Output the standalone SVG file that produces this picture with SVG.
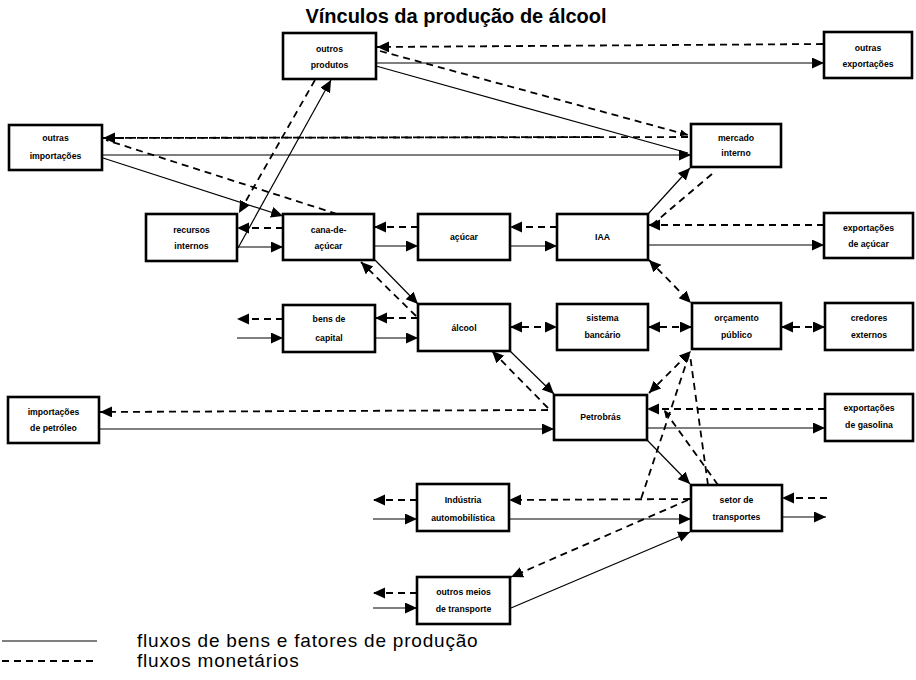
<svg xmlns="http://www.w3.org/2000/svg" width="916" height="680" viewBox="0 0 916 680">
<style>
.box{fill:#fff;stroke:#000;stroke-width:2.6}
.t{font-family:"Liberation Sans",Arial,sans-serif;font-size:8.7px;font-weight:bold;text-anchor:middle;fill:#000}
.s{stroke:#000;stroke-width:1.2;fill:none}
.d{stroke:#000;stroke-width:1.8;stroke-dasharray:7 5;fill:none}
.a{marker-end:url(#ah)}
.b{marker-start:url(#ah);marker-end:url(#ah)}
.sm{marker-end:url(#ahs)}
.title{font-family:"Liberation Sans",Arial,sans-serif;font-size:20px;font-weight:bold;text-anchor:middle}
.leg{font-family:"Liberation Sans",Arial,sans-serif;font-size:19px;letter-spacing:0.8px}
</style>
<defs>
<marker id="ah" markerUnits="userSpaceOnUse" markerWidth="13" markerHeight="12" refX="12" refY="5.5" orient="auto-start-reverse" viewBox="0 0 13 12">
<path d="M0,0 L12,5.5 L0,11 z" fill="#000"/>
</marker>
<marker id="ahs" markerUnits="userSpaceOnUse" markerWidth="9" markerHeight="8" refX="8" refY="3.5" orient="auto" viewBox="0 0 9 8">
<path d="M0,0 L8,3.5 L0,7 z" fill="#000"/>
</marker>
</defs>
<rect width="916" height="680" fill="#fff"/>
<text class="title" x="456" y="23">Vínculos da produção de álcool</text>

<g id="connectors">
<path class="d a" d="M823,44 L377,47"/>
<path class="s a" d="M376,63 L824,63"/>
<path class="d sm" d="M380,51 L688,135"/>
<path class="s" d="M376,66 L688,153"/>
<path class="d" d="M688,137 L110,138"/>
<path class="d a" d="M600,137 L103,138"/>
<path class="s a" d="M102,155 L691,155"/>
<path class="d" d="M337,214 L106,140"/>
<path class="s a" d="M103,158 L283,216"/>
<path class="d a" d="M315,80 L239,213"/>
<path class="s a" d="M238,248 L331,80"/>
<path class="d a" d="M283,228 L237,228"/>
<path class="s a" d="M237,247 L283,247"/>
<path class="d a" d="M418,227 L374,227"/>
<path class="s a" d="M374,246 L418,246"/>
<path class="d a" d="M557,227 L510,227"/>
<path class="s a" d="M510,246 L557,246"/>
<path class="s a" d="M375,260 L418,304"/>
<path class="d a" d="M416,316 L361,262"/>
<path class="d a" d="M418,318 L375,318"/>
<path class="s a" d="M375,338 L418,338"/>
<path class="d a" d="M283,319 L237,319"/>
<path class="s a" d="M237,338 L283,338"/>
<path class="d b" d="M510,327 L557,327"/>
<path class="d b" d="M648,327 L692,327"/>
<path class="d b" d="M781,327 L825,327"/>
<path class="s a" d="M648,214 L690,168"/>
<path class="d" d="M712,174 L653,224"/>
<path class="d a" d="M824,225 L648,225"/>
<path class="s a" d="M648,245 L824,245"/>
<path class="d b" d="M649,260 L691,303"/>
<path class="s a" d="M510,351 L554,394"/>
<path class="d a" d="M548,408 L492,351"/>
<path class="d a" d="M548,410 L100,412"/>
<path class="s a" d="M99,429 L554,429"/>
<path class="d b" d="M649,393 L691,351"/>
<path class="d" d="M689,355 L641,499"/>
<path class="d" d="M708,485 L690,355"/>
<path class="d sm" d="M718,485 L664,410"/>
<path class="d a" d="M825,409 L647,409"/>
<path class="s a" d="M647,428 L825,428"/>
<path class="s a" d="M647,440 L690,484"/>
<path class="d a" d="M690,499 L509,500"/>
<path class="s a" d="M509,519 L691,519"/>
<path class="d a" d="M688,500 L511,577"/>
<path class="s a" d="M511,608 L690,532"/>
<path class="d a" d="M417,500 L373,500"/>
<path class="s a" d="M373,519 L417,519"/>
<path class="d a" d="M417,593 L373,593"/>
<path class="s a" d="M373,608 L417,608"/>
<path class="d a" d="M827,498 L782,498"/>
<path class="s a" d="M782,517 L826,517"/>
</g>

<g id="outros-produtos"><rect class="box" x="283" y="33" width="93" height="46"/><text class="t" x="329.5" y="52">outros</text><text class="t" x="329.5" y="68">produtos</text></g>
<g id="outras-exportacoes"><rect class="box" x="824" y="32" width="88" height="46"/><text class="t" x="868" y="51">outras</text><text class="t" x="868" y="67">exportações</text></g>
<g id="outras-importacoes"><rect class="box" x="9" y="125" width="93" height="45"/><text class="t" x="55.5" y="141">outras</text><text class="t" x="55.5" y="159">importações</text></g>
<g id="mercado-interno"><rect class="box" x="691" y="124" width="90" height="43"/><text class="t" x="736" y="141">mercado</text><text class="t" x="736" y="156">interno</text></g>
<g id="recursos-internos"><rect class="box" x="146" y="214" width="91" height="47"/><text class="t" x="191.5" y="233">recursos</text><text class="t" x="191.5" y="249">internos</text></g>
<g id="cana-de-acucar"><rect class="box" x="283" y="214" width="91" height="46"/><text class="t" x="328.5" y="233">cana-de-</text><text class="t" x="328.5" y="249">açúcar</text></g>
<g id="acucar"><rect class="box" x="418" y="214" width="92" height="46"/><text class="t" x="464" y="240">açúcar</text></g>
<g id="iaa"><rect class="box" x="557" y="214" width="91" height="46"/><text class="t" x="602.5" y="240">IAA</text></g>
<g id="exportacoes-acucar"><rect class="box" x="824" y="213" width="89" height="45"/><text class="t" x="868.5" y="231">exportações</text><text class="t" x="868.5" y="247">de açúcar</text></g>
<g id="bens-capital"><rect class="box" x="283" y="305" width="92" height="47"/><text class="t" x="329" y="322">bens de</text><text class="t" x="329" y="341">capital</text></g>
<g id="alcool"><rect class="box" x="418" y="304" width="92" height="47"/><text class="t" x="464" y="331">álcool</text></g>
<g id="sistema-bancario"><rect class="box" x="557" y="304" width="91" height="46"/><text class="t" x="602.5" y="321">sistema</text><text class="t" x="602.5" y="338">bancário</text></g>
<g id="orcamento-publico"><rect class="box" x="692" y="303" width="89" height="46"/><text class="t" x="736.5" y="321">orçamento</text><text class="t" x="736.5" y="338">público</text></g>
<g id="credores-externos"><rect class="box" x="825" y="303" width="88" height="47"/><text class="t" x="869" y="321">credores</text><text class="t" x="869" y="338">externos</text></g>
<g id="importacoes-petroleo"><rect class="box" x="8" y="397" width="91" height="46"/><text class="t" x="53.5" y="415">importações</text><text class="t" x="53.5" y="431">de petróleo</text></g>
<g id="petrobras"><rect class="box" x="554" y="395" width="93" height="45"/><text class="t" x="600.5" y="420">Petrobrás</text></g>
<g id="exportacoes-gasolina"><rect class="box" x="825" y="394" width="88" height="47"/><text class="t" x="869" y="411">exportações</text><text class="t" x="869" y="428">de gasolina</text></g>
<g id="industria-automobilistica"><rect class="box" x="417" y="484" width="92" height="47"/><text class="t" x="463" y="503">Indústria</text><text class="t" x="463" y="521">automobilística</text></g>
<g id="setor-transportes"><rect class="box" x="691" y="485" width="91" height="46"/><text class="t" x="736.5" y="503">setor de</text><text class="t" x="736.5" y="520">transportes</text></g>
<g id="outros-meios"><rect class="box" x="417" y="577" width="93" height="47"/><text class="t" x="463.5" y="595">outros meios</text><text class="t" x="463.5" y="612">de transporte</text></g>

<g id="legend">
<line class="s" x1="2" y1="641" x2="97" y2="641"/>
<line class="d" x1="2" y1="661" x2="97" y2="661"/>
<text class="leg" x="137" y="647">fluxos de bens e fatores de produção</text>
<text class="leg" x="137" y="667">fluxos monetários</text>
</g>
</svg>
